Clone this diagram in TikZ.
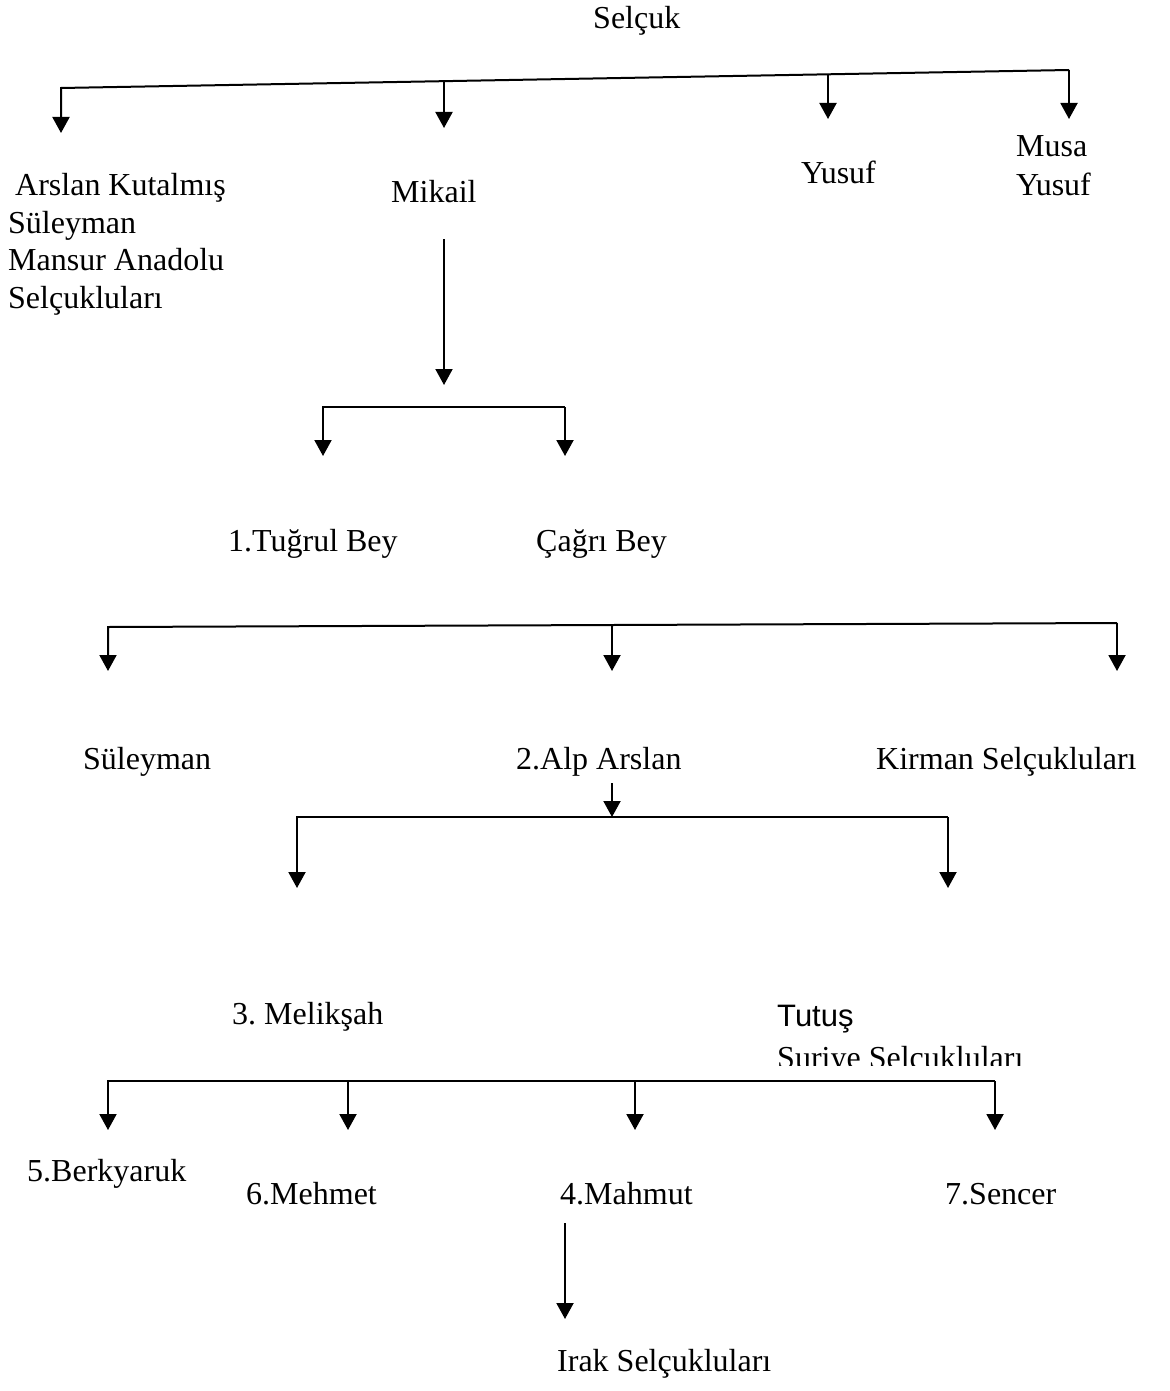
\documentclass[tikz,border=0pt]{standalone}
\usepackage{fontspec}
\setmainfont{Liberation Serif}
\newfontfamily\arialfont{Liberation Sans}
\usetikzlibrary{arrows.meta}
\frenchspacing
\begin{document}
\begin{tikzpicture}[x=1pt,y=-1pt,
  lbl/.style={inner sep=0pt,anchor=base west,font=\fontsize{32}{37.5}\selectfont},
  sanslbl/.style={inner sep=0pt,anchor=base west,font=\arialfont\fontsize{31}{36}\selectfont},
  conn/.style={line width=2pt},
  arr/.style={line width=2pt,-{Triangle[width=17pt,length=16pt]}}]
\useasboundingbox (0,0) rectangle (1169,1391);

% ---------- texts ----------
\node[lbl] (selcuk) at (593,29) {Selçuk};
\node[lbl,align=left] (arslan) at (8,308) {\hspace*{7pt}Arslan Kutalmış\\Süleyman\\Mansur Anadolu\\Selçukluları};
\node[lbl] (mikail) at (391,203) {Mikail};
\node[lbl] (yusuf) at (801,183) {Yusuf};
\node[lbl,align=left,font=\fontsize{32}{39}\selectfont] (musa) at (1016,196) {Musa\\Yusuf};
\node[lbl] (tugrul) at (228,551) {1.Tuğrul Bey};
\node[lbl] (cagri) at (536,551) {Çağrı Bey};
\node[lbl] (suleyman) at (83,769) {Süleyman};
\node[lbl] (alparslan) at (516,769) {2.Alp Arslan};
\node[lbl] (kirman) at (876,769) {Kirman Selçukluları};
\node[lbl] (meliksah) at (232,1024) {3. Melikşah};
\node[sanslbl] (tutus) at (777,1026) {Tutuş};
\begin{scope}
  \clip (770,1030) rectangle (1040,1065);
  \node[lbl] (suriye) at (777,1068) {Suriye Selçukluları};
\end{scope}
\node[lbl] (berkyaruk) at (27,1181) {5.Berkyaruk};
\node[lbl] (mehmet) at (246,1204) {6.Mehmet};
\node[lbl] (mahmut) at (560,1204) {4.Mahmut};
\node[lbl] (sencer) at (945,1204) {7.Sencer};
\node[lbl] (irak) at (557,1371) {Irak Selçukluları};

% ---------- coordinates ----------
% top row
\coordinate (tL) at (61,88);
\coordinate (tR) at (1069,70);
\coordinate (tM) at (444,81);
\coordinate (tY) at (828,74);
\coordinate (aL) at (61,133);
\coordinate (aM) at (444,128);
\coordinate (aY) at (828,119);
\coordinate (aR) at (1069,119);
% Mikail
\coordinate (mTop) at (444,239);
\coordinate (mTip) at (444,385);
\coordinate (bL) at (323,407);
\coordinate (bR) at (565,407);
\coordinate (bLt) at (323,456);
\coordinate (bRt) at (565,456);
% Cagri row
\coordinate (cL) at (108,627);
\coordinate (cR) at (1117,623);
\coordinate (cM) at (612,625);
\coordinate (cLt) at (108,671);
\coordinate (cMt) at (612,671);
\coordinate (cRt) at (1117,671);
% Alp Arslan
\coordinate (alpTop) at (612,783);
\coordinate (dM) at (612,817);
\coordinate (dL) at (297,817);
\coordinate (dR) at (948,817);
\coordinate (dLt) at (297,888);
\coordinate (dRt) at (948,888);
% Meliksah row
\coordinate (eL) at (108,1081);
\coordinate (eR) at (995,1081);
\coordinate (e2) at (348,1081);
\coordinate (e3) at (635,1081);
\coordinate (eLt) at (108,1130);
\coordinate (e2t) at (348,1130);
\coordinate (e3t) at (635,1130);
\coordinate (eRt) at (995,1130);
% Mahmut
\coordinate (mhTop) at (565,1223);
\coordinate (mhTip) at (565,1319);

% ---------- connectors ----------
\draw[arr] (tR) -- (tL) -- (aL);
\draw[arr] (tR) -- (aR);
\draw[arr] (tM) -- (aM);
\draw[arr] (tY) -- (aY);

\draw[arr] (mTop) -- (mTip);
\draw[arr] (bR) -- (bL) -- (bLt);
\draw[arr] (bR) -- (bRt);

\draw[arr] (cR) -- (cL) -- (cLt);
\draw[arr] (cR) -- (cRt);
\draw[arr] (cM) -- (cMt);

\draw[arr] (alpTop) -- (dM);
\draw[arr] (dR) -- (dL) -- (dLt);
\draw[arr] (dR) -- (dRt);

\draw[arr] (eR) -- (eL) -- (eLt);
\draw[arr] (eR) -- (eRt);
\draw[arr] (e2) -- (e2t);
\draw[arr] (e3) -- (e3t);

\draw[arr] (mhTop) -- (mhTip);
\end{tikzpicture}
\end{document}
